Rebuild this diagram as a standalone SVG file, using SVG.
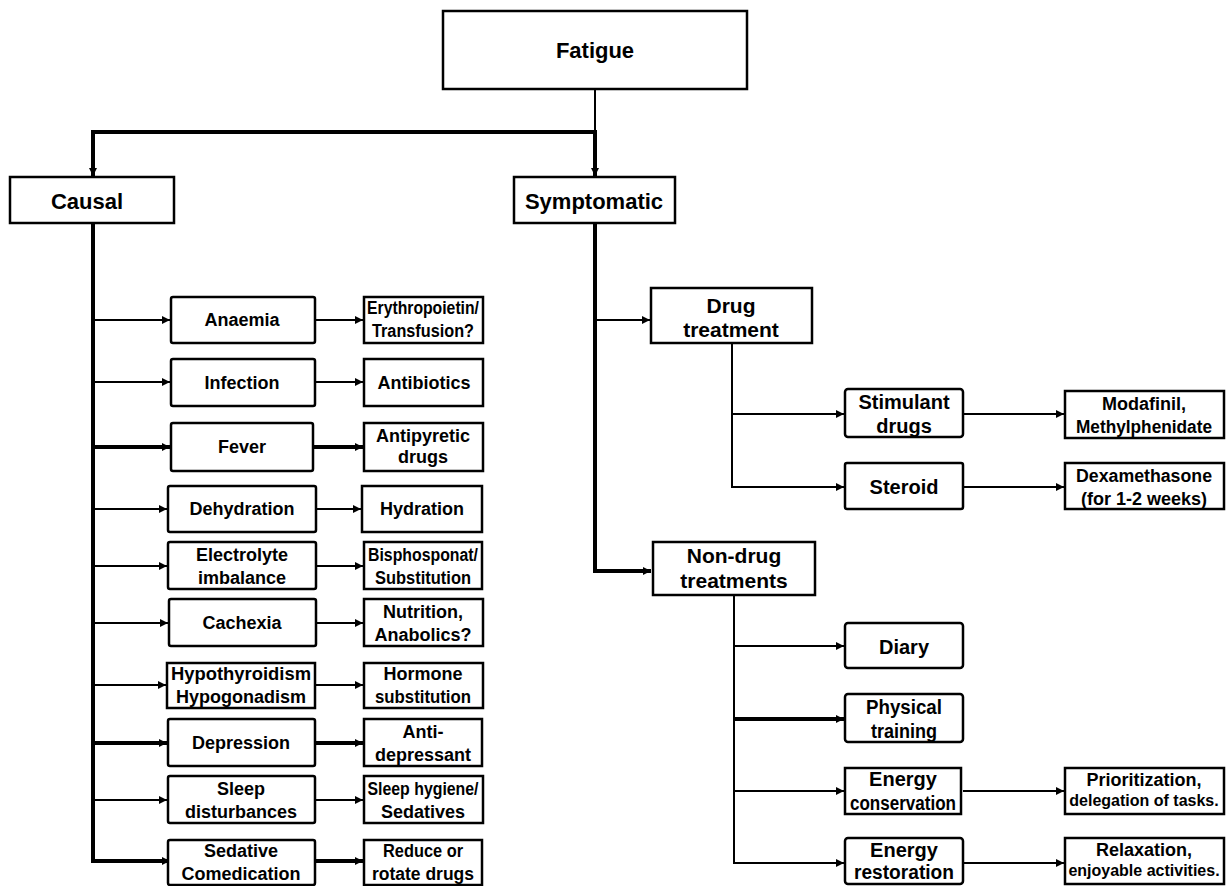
<svg xmlns="http://www.w3.org/2000/svg" width="1226" height="886" viewBox="0 0 1226 886">
<style>
.b{fill:#fff;stroke:#000;stroke-width:2.5}
text{font-family:"Liberation Sans",Arial,sans-serif;font-weight:bold;text-anchor:middle;fill:#000}
.h{font-size:22px}
.l{font-size:18px}
.m{font-size:21px}
.n{font-size:20px}
.r{font-size:18px}
.c{fill:none;stroke:#000;stroke-width:2}
.k{fill:none;stroke:#000;stroke-width:4}
</style>
<defs>
<marker id="a" markerUnits="userSpaceOnUse" markerWidth="9" markerHeight="9" refX="8" refY="4.5" orient="auto">
<path d="M0,0.5 L8,4.5 L0,8.5 z" fill="#000"/>
</marker>
</defs>
<rect width="1226" height="886" fill="#fff"/>
<g id="connectors">
<path class="c" d="M595 89 V132"/>
<path class="k" d="M595 132 H93 V176" marker-end="url(#a)"/>
<path class="k" d="M595 130 V176" marker-end="url(#a)"/>
<path class="k" d="M93 223 V861 H170" marker-end="url(#a)"/>
<path class="c" d="M93 320 H170" marker-end="url(#a)"/>
<path class="c" d="M93 382 H170" marker-end="url(#a)"/>
<path class="k" d="M93 447 H170" marker-end="url(#a)"/>
<path class="c" d="M93 509 H167" marker-end="url(#a)"/>
<path class="c" d="M93 566 H167" marker-end="url(#a)"/>
<path class="c" d="M93 623 H168" marker-end="url(#a)"/>
<path class="c" d="M93 685 H166" marker-end="url(#a)"/>
<path class="k" d="M93 743 H167" marker-end="url(#a)"/>
<path class="c" d="M93 800 H167" marker-end="url(#a)"/>
<path class="c" d="M315 320 H363" marker-end="url(#a)"/>
<path class="c" d="M315 382 H363" marker-end="url(#a)"/>
<path class="k" d="M313 447 H363" marker-end="url(#a)"/>
<path class="c" d="M315 509 H361" marker-end="url(#a)"/>
<path class="c" d="M315 566 H363" marker-end="url(#a)"/>
<path class="c" d="M315 623 H363" marker-end="url(#a)"/>
<path class="c" d="M315 685 H363" marker-end="url(#a)"/>
<path class="k" d="M315 743 H363" marker-end="url(#a)"/>
<path class="c" d="M315 800 H363" marker-end="url(#a)"/>
<path class="k" d="M315 861 H363" marker-end="url(#a)"/>
<path class="k" d="M595 223 V571 H651" marker-end="url(#a)"/>
<path class="c" d="M595 320 H650" marker-end="url(#a)"/>
<path class="c" d="M732 343 V487 H844" marker-end="url(#a)"/>
<path class="c" d="M732 414 H844" marker-end="url(#a)"/>
<path class="c" d="M963 414 H1064" marker-end="url(#a)"/>
<path class="c" d="M963 487 H1064" marker-end="url(#a)"/>
<path class="c" d="M734 595 V863 H844" marker-end="url(#a)"/>
<path class="c" d="M734 646 H844" marker-end="url(#a)"/>
<path class="k" d="M734 719 H844" marker-end="url(#a)"/>
<path class="c" d="M734 791 H844" marker-end="url(#a)"/>
<path class="c" d="M963 791 H1064" marker-end="url(#a)"/>
<path class="c" d="M963 863 H1064" marker-end="url(#a)"/>
</g>
<g id="fatigue"><rect class="b" x="443" y="11" width="304" height="78"/><text class="h" x="595" y="58">Fatigue</text></g>
<g id="causal"><rect class="b" x="10" y="177" width="164" height="46"/><text class="h" x="87" y="209">Causal</text></g>
<g id="symptomatic"><rect class="b" x="514" y="177" width="161" height="46"/><text class="h" x="594" y="209">Symptomatic</text></g>

<g id="anaemia"><rect class="b" x="171" y="297" width="144" height="46" rx="2"/><text class="l" x="242" y="326">Anaemia</text></g>
<g id="erythropoietin"><rect class="b" x="364" y="297" width="119" height="46"/><text class="l" x="423" y="314" textLength="112" lengthAdjust="spacingAndGlyphs">Erythropoietin/</text><text class="l" x="423" y="337" textLength="102" lengthAdjust="spacingAndGlyphs">Transfusion?</text></g>
<g id="infection"><rect class="b" x="171" y="359" width="144" height="47" rx="2"/><text class="l" x="242" y="389">Infection</text></g>
<g id="antibiotics"><rect class="b" x="364" y="359" width="119" height="47"/><text class="l" x="424" y="389">Antibiotics</text></g>
<g id="fever"><rect class="b" x="171" y="423" width="142" height="48" rx="2"/><text class="l" x="242" y="453">Fever</text></g>
<g id="antipyretic"><rect class="b" x="364" y="423" width="119" height="48"/><text class="l" x="423" y="442">Antipyretic</text><text class="l" x="423" y="463">drugs</text></g>
<g id="dehydration"><rect class="b" x="168" y="486" width="148" height="46" rx="2"/><text class="l" x="242" y="515">Dehydration</text></g>
<g id="hydration"><rect class="b" x="362" y="486" width="120" height="46"/><text class="l" x="422" y="515">Hydration</text></g>
<g id="electrolyte"><rect class="b" x="168" y="542" width="148" height="47" rx="2"/><text class="l" x="242" y="561">Electrolyte</text><text class="l" x="242" y="584">imbalance</text></g>
<g id="bisphosponat"><rect class="b" x="364" y="542" width="118" height="47"/><text class="l" x="423" y="561" textLength="110" lengthAdjust="spacingAndGlyphs">Bisphosponat/</text><text class="l" x="423" y="584" textLength="96" lengthAdjust="spacingAndGlyphs">Substitution</text></g>
<g id="cachexia"><rect class="b" x="169" y="599" width="147" height="47" rx="2"/><text class="l" x="242" y="629">Cachexia</text></g>
<g id="nutrition"><rect class="b" x="364" y="599" width="119" height="47"/><text class="l" x="423" y="618">Nutrition,</text><text class="l" x="423" y="641">Anabolics?</text></g>
<g id="hypothyroidism"><rect class="b" x="167" y="663" width="148" height="45"/><text class="l" x="241" y="680" textLength="140" lengthAdjust="spacingAndGlyphs">Hypothyroidism</text><text class="l" x="241" y="703">Hypogonadism</text></g>
<g id="hormone"><rect class="b" x="364" y="663" width="119" height="45"/><text class="l" x="423" y="680">Hormone</text><text class="l" x="423" y="703" textLength="96" lengthAdjust="spacingAndGlyphs">substitution</text></g>
<g id="depression"><rect class="b" x="168" y="719" width="147" height="47" rx="2"/><text class="l" x="241" y="749">Depression</text></g>
<g id="antidepressant"><rect class="b" x="364" y="719" width="118" height="47"/><text class="l" x="423" y="738">Anti-</text><text class="l" x="423" y="761">depressant</text></g>
<g id="sleep"><rect class="b" x="168" y="776" width="147" height="47" rx="2"/><text class="l" x="241" y="795">Sleep</text><text class="l" x="241" y="818">disturbances</text></g>
<g id="sleephygiene"><rect class="b" x="364" y="776" width="119" height="47"/><text class="l" x="423" y="795" textLength="111" lengthAdjust="spacingAndGlyphs">Sleep hygiene/</text><text class="l" x="423" y="818">Sedatives</text></g>
<g id="sedative"><rect class="b" x="168" y="840" width="147" height="45" rx="2"/><text class="l" x="241" y="857">Sedative</text><text class="l" x="241" y="880">Comedication</text></g>
<g id="reduce"><rect class="b" x="364" y="840" width="118" height="45"/><text class="l" x="423" y="857" textLength="80" lengthAdjust="spacingAndGlyphs">Reduce or</text><text class="l" x="423" y="880" textLength="102" lengthAdjust="spacingAndGlyphs">rotate drugs</text></g>

<g id="drugtreatment"><rect class="b" x="651" y="288" width="161" height="55"/><text class="m" x="731" y="313">Drug</text><text class="m" x="731" y="337">treatment</text></g>
<g id="stimulant"><rect class="b" x="845" y="389" width="118" height="48" rx="3"/><text class="n" x="904" y="409">Stimulant</text><text class="n" x="904" y="433">drugs</text></g>
<g id="modafinil"><rect class="b" x="1065" y="391" width="159" height="47"/><text class="r" x="1144" y="410">Modafinil,</text><text class="r" x="1144" y="433" textLength="136" lengthAdjust="spacingAndGlyphs">Methylphenidate</text></g>
<g id="steroid"><rect class="b" x="845" y="463" width="118" height="46" rx="2"/><text class="n" x="904" y="494">Steroid</text></g>
<g id="dexamethasone"><rect class="b" x="1065" y="463" width="159" height="46"/><text class="r" x="1144" y="482" textLength="136" lengthAdjust="spacingAndGlyphs">Dexamethasone</text><text class="r" x="1144" y="505">(for 1-2 weeks)</text></g>
<g id="nondrug"><rect class="b" x="653" y="542" width="162" height="53"/><text class="m" x="734" y="563">Non-drug</text><text class="m" x="734" y="588">treatments</text></g>
<g id="diary"><rect class="b" x="845" y="623" width="118" height="45" rx="3"/><text class="n" x="904" y="654">Diary</text></g>
<g id="physical"><rect class="b" x="845" y="694" width="118" height="48" rx="3"/><text class="n" x="904" y="714" textLength="76" lengthAdjust="spacingAndGlyphs">Physical</text><text class="n" x="904" y="738" textLength="66" lengthAdjust="spacingAndGlyphs">training</text></g>
<g id="energycons"><rect class="b" x="845" y="768" width="116" height="46"/><text class="n" x="903" y="786">Energy</text><text class="n" x="903" y="810" textLength="106" lengthAdjust="spacingAndGlyphs">conservation</text></g>
<g id="prioritization"><rect class="b" x="1065" y="768" width="159" height="46"/><text class="r" x="1144" y="786">Prioritization,</text><text x="1144" y="806" font-size="16">delegation of tasks.</text></g>
<g id="energyrest"><rect class="b" x="845" y="838" width="118" height="46" rx="3"/><text class="n" x="904" y="857">Energy</text><text class="n" x="904" y="879" textLength="100" lengthAdjust="spacingAndGlyphs">restoration</text></g>
<g id="relaxation"><rect class="b" x="1065" y="838" width="159" height="46"/><text class="r" x="1144" y="856">Relaxation,</text><text x="1144" y="876" font-size="16">enjoyable activities.</text></g>
</svg>
